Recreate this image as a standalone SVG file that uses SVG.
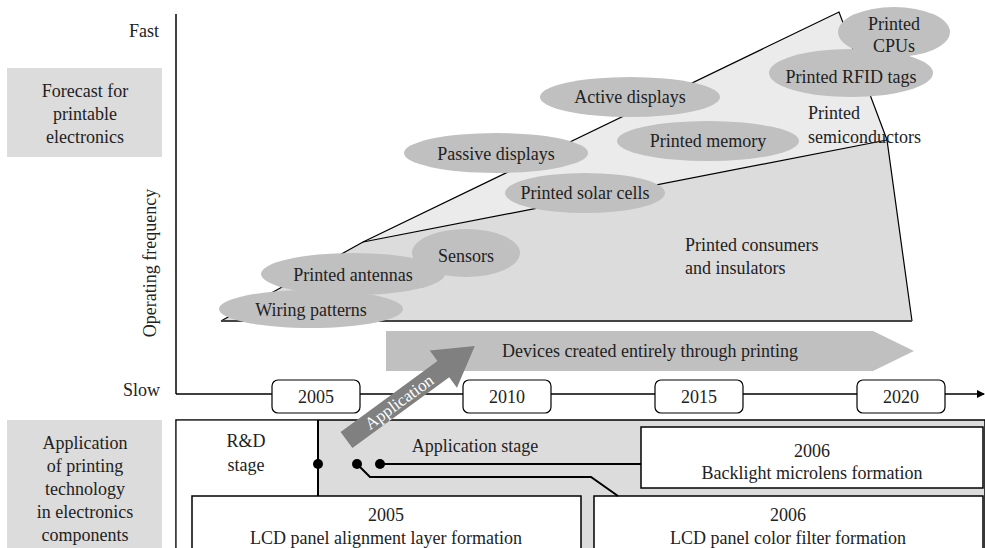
<svg xmlns="http://www.w3.org/2000/svg" width="985" height="548" viewBox="0 0 985 548">
<defs>
<style>
text{font-family:"Liberation Serif","DejaVu Serif",serif;font-size:18px;fill:#222}
.c{text-anchor:middle}
.e{fill:#c0c0c0}
.yb{fill:#fff;stroke:#000;stroke-width:1.2}
.bx{fill:#fff;stroke:#000;stroke-width:1.5}
.lab{fill:#dcdcdc}
.con{fill:none;stroke:#000;stroke-width:2}
</style>
<marker id="ah" markerWidth="8" markerHeight="8" refX="7" refY="4" orient="auto" markerUnits="userSpaceOnUse">
<path d="M0,0 L8,4 L0,8 Z" fill="#000"/>
</marker>
</defs>
<rect width="985" height="548" fill="#fff"/>

<g id="label-forecast">
<rect class="lab" x="7" y="68" width="155" height="89"/>
<text class="c" x="85" y="97">Forecast for</text>
<text class="c" x="85" y="120">printable</text>
<text class="c" x="85" y="143">electronics</text>
</g>
<g id="label-application">
<rect class="lab" x="7" y="420" width="155" height="128"/>
<text class="c" x="85" y="449">Application</text>
<text class="c" x="85" y="472">of printing</text>
<text class="c" x="85" y="495">technology</text>
<text class="c" x="85" y="518">in electronics</text>
<text class="c" x="85" y="541">components</text>
</g>

<g id="axes">
<text x="159" y="37" text-anchor="end">Fast</text>
<text x="160" y="396" text-anchor="end">Slow</text>
<text class="c" transform="translate(156,263) rotate(-90)">Operating frequency</text>
<line x1="176" y1="14" x2="176" y2="394" stroke="#000" stroke-width="1.5"/>
<line x1="176" y1="394" x2="984" y2="394" stroke="#000" stroke-width="1.5" marker-end="url(#ah)"/>
</g>

<g id="region">
<polygon points="363,242 839,12 887,140" fill="#ebebeb"/>
<polygon points="221,321 363,242 887,140 912,321" fill="#dcdcdc"/>
<polyline points="221,321 363,242 839,12 887,140 912,321" fill="none" stroke="#000" stroke-width="1.2"/>
<line x1="363" y1="242" x2="887" y2="140" stroke="#000" stroke-width="1.2"/>
<line x1="221" y1="321" x2="912" y2="321" stroke="#444" stroke-width="2"/>
<text x="808" y="119">Printed</text>
<text x="808" y="143">semiconductors</text>
<text x="685" y="251">Printed consumers</text>
<text x="685" y="274">and insulators</text>
</g>

<g id="n-rfid"><ellipse class="e" cx="851" cy="73" rx="82" ry="24"/><text class="c" x="851" y="83">Printed RFID tags</text></g>
<g id="n-cpus"><ellipse class="e" cx="894" cy="32" rx="56" ry="25"/><text class="c" x="894" y="30">Printed</text><text class="c" x="894" y="52">CPUs</text></g>
<g id="n-active"><ellipse class="e" cx="630" cy="97" rx="90" ry="20"/><text class="c" x="630" y="103">Active displays</text></g>
<g id="n-memory"><ellipse class="e" cx="708" cy="141" rx="91" ry="20"/><text class="c" x="708" y="147">Printed memory</text></g>
<g id="n-passive"><ellipse class="e" cx="496" cy="153" rx="92" ry="20"/><text class="c" x="496" y="160">Passive displays</text></g>
<g id="n-solar"><ellipse class="e" cx="585" cy="193" rx="80" ry="20"/><text class="c" x="585" y="199">Printed solar cells</text></g>
<g id="n-sensors"><ellipse class="e" cx="466" cy="253" rx="54" ry="24"/><text class="c" x="466" y="262">Sensors</text></g>
<g id="n-antennas"><ellipse class="e" cx="353" cy="274" rx="92" ry="21"/><text class="c" x="353" y="281">Printed antennas</text></g>
<g id="n-wiring"><ellipse class="e" cx="311" cy="309" rx="92" ry="19"/><text class="c" x="311" y="316">Wiring patterns</text></g>

<g id="devices">
<polygon points="386,331 873,331 914,351 873,371 386,371" fill="#c0c0c0"/>
<text class="c" x="650" y="357">Devices created entirely through printing</text>
</g>

<g id="years">
<rect class="yb" x="272" y="380" width="88" height="33" rx="6"/><text class="c" x="316" y="403">2005</text>
<rect class="yb" x="463" y="380" width="88" height="33" rx="6"/><text class="c" x="507" y="403">2010</text>
<rect class="yb" x="655" y="380" width="88" height="33" rx="6"/><text class="c" x="699" y="403">2015</text>
<rect class="yb" x="857" y="380" width="88" height="33" rx="6"/><text class="c" x="901" y="403">2020</text>
</g>

<g id="panel">
<rect x="176" y="420" width="809" height="140" fill="#dcdcdc" stroke="#000" stroke-width="1.5"/>
<rect x="176.75" y="420.75" width="141" height="140" fill="#fff"/>
<line x1="318" y1="420" x2="318" y2="496" stroke="#000" stroke-width="2"/>
<text class="c" x="246" y="447">R&amp;D</text>
<text class="c" x="246" y="471">stage</text>
<text class="c" x="475" y="452">Application stage</text>
</g>

<g id="n-backlight">
<rect class="bx" x="641" y="427" width="342" height="61"/>
<text class="c" x="812" y="457">2006</text>
<text class="c" x="812" y="479">Backlight microlens formation</text>
</g>
<g id="n-alignment">
<rect class="bx" x="192" y="496" width="389" height="70"/>
<text class="c" x="386" y="521">2005</text>
<text class="c" x="386" y="544">LCD panel alignment layer formation</text>
</g>
<g id="n-colorfilter">
<rect class="bx" x="594" y="496" width="389" height="70"/>
<text class="c" x="788" y="521">2006</text>
<text class="c" x="788" y="544">LCD panel color filter formation</text>
</g>

<g id="connectors">
<polyline class="con" points="380,464 641,464"/>
<polyline class="con" points="357,464 370,477 591,477 618,496"/>
<circle cx="318" cy="464" r="5" fill="#000"/>
<circle cx="357" cy="464" r="5" fill="#000"/>
<circle cx="380" cy="464" r="5" fill="#000"/>
</g>

<g id="application-arrow" transform="translate(346.5,440) rotate(-36.2)">
<polygon points="0,-10 120,-10 120,-23 159,0 120,23 120,10 0,10" fill="#808080"/>
<text class="c" x="65" y="6" style="fill:#fff;font-size:17px">Application</text>
</g>
</svg>
